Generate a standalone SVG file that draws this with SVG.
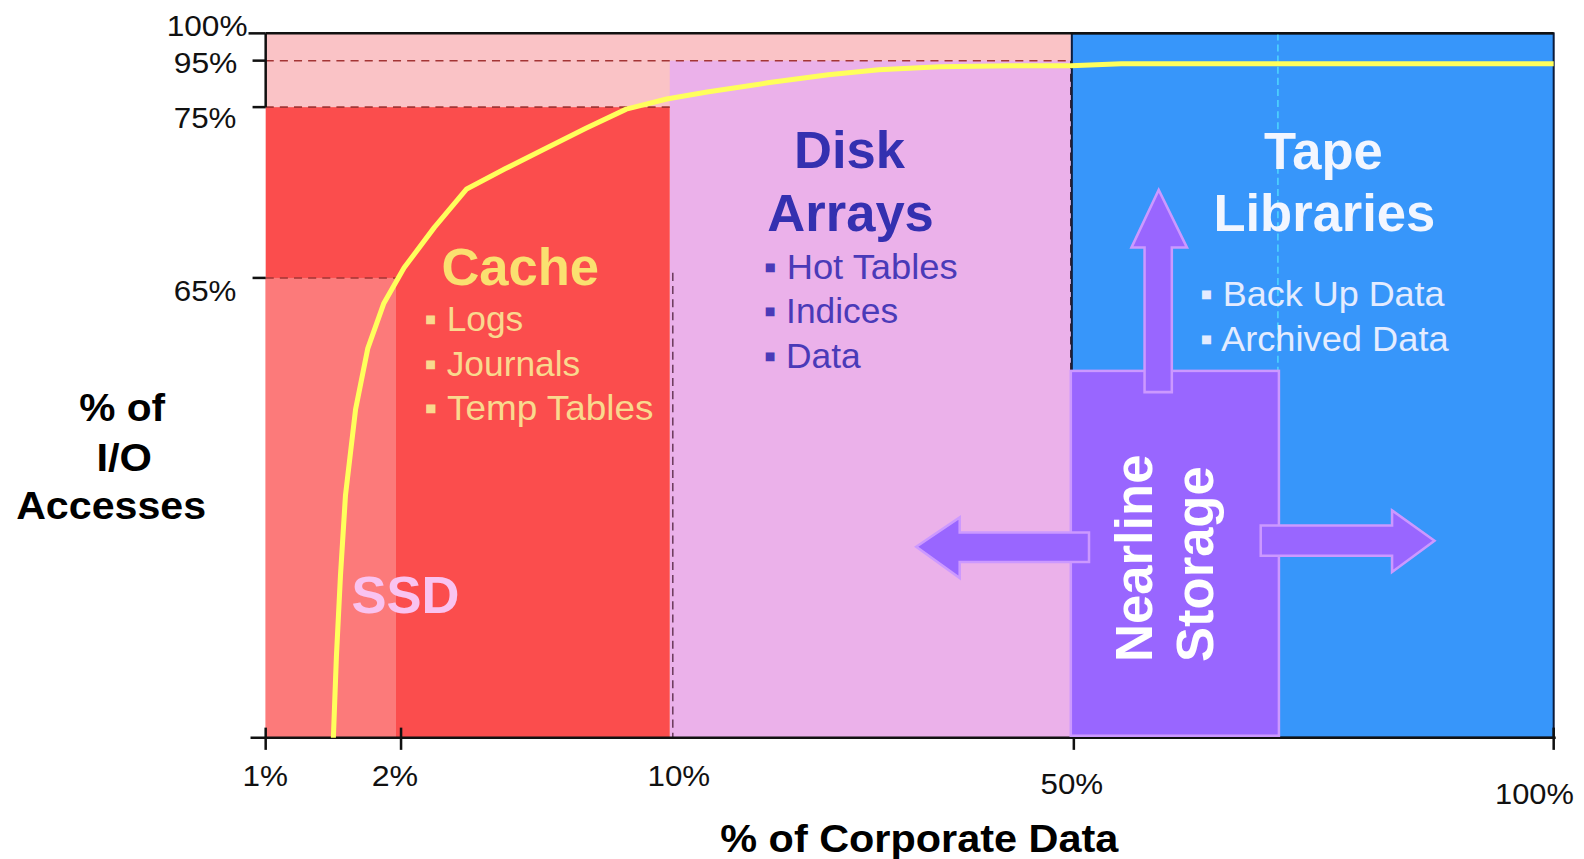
<svg xmlns="http://www.w3.org/2000/svg" width="1584" height="859" viewBox="0 0 1584 859">
<style>
.axl{font-family:"Liberation Sans Narrow","Liberation Sans",sans-serif;font-size:30px;fill:#111}
.ttl{font-family:"Liberation Sans",Arial,sans-serif;font-weight:bold;fill:#000}
.big{font-family:"Liberation Sans",Arial,sans-serif;font-weight:bold;font-size:52px}
.bul{font-family:"Liberation Sans",Arial,sans-serif;font-size:35px}
.arrow{fill:#9966ff;stroke:#cc99ff;stroke-width:2.5}
</style>
<rect width="1584" height="859" fill="#ffffff"/>
<g transform="scale(1.0102,1.0106)">
<g id="regions">
<rect x="263" y="33" width="797" height="73" fill="#fac3c6"/>
<rect x="663" y="60" width="397" height="670" fill="#ebb1ea"/>
<rect x="263" y="106" width="400" height="624" fill="#fb4d4d"/>
<rect x="263" y="275" width="129" height="455" fill="#fc7a7a"/>
<rect x="1061" y="33" width="477" height="697" fill="#3796fa" stroke="#0c1c3c" stroke-width="2"/>
<line x1="1265" y1="33" x2="1265" y2="367" stroke="#4fd8ff" stroke-width="1.5" stroke-dasharray="7,4"/>
</g>
<g id="gridlines" fill="none">
<line x1="263" y1="60" x2="1060" y2="60" stroke="#a33535" stroke-width="1.5" stroke-dasharray="8,6"/>
<line x1="263" y1="106" x2="663" y2="106" stroke="#a33535" stroke-width="1.5" stroke-dasharray="8,6"/>
<line x1="263" y1="275" x2="392" y2="275" stroke="#a33535" stroke-width="1.5" stroke-dasharray="8,6"/>
<line x1="666" y1="270" x2="666" y2="730" stroke="#6a3a5a" stroke-width="1.5" stroke-dasharray="8,5"/>
<line x1="1060" y1="60" x2="1060" y2="730" stroke="#302030" stroke-width="1.5" stroke-dasharray="8,5"/>
</g>
<g id="axes" stroke="#111" stroke-width="2.5" fill="none">
<line x1="263" y1="33" x2="1538" y2="33"/>
<line x1="263" y1="33" x2="263" y2="106"/>
<line x1="263" y1="720" x2="263" y2="742"/>
<line x1="248" y1="730" x2="1540" y2="730"/>
<line x1="246" y1="33" x2="263" y2="33"/>
<line x1="250" y1="60" x2="263" y2="60"/>
<line x1="250" y1="106" x2="263" y2="106"/>
<line x1="250" y1="275" x2="263" y2="275"/>
<line x1="397" y1="720" x2="397" y2="742"/>
<line x1="1063" y1="730" x2="1063" y2="742"/>
<line x1="1538" y1="720" x2="1538" y2="742"/>
</g>
<g id="curve">
<polyline fill="none" stroke="#ffff5c" stroke-width="5" stroke-linejoin="round" points="330,730 333,650 337,570 342,490 352,405 364,345 380,300 400,265 430,225 462,187 500,167 540,147 580,127 620,108 660,98 700,91 760,82 820,74 870,69 930,66 1000,65 1060,65 1110,63 1538,63"/>
</g>
<g id="y-labels" class="axl" text-anchor="end">
<text x="245" y="36" textLength="80" lengthAdjust="spacingAndGlyphs">100%</text>
<text x="235" y="72" textLength="63" lengthAdjust="spacingAndGlyphs">95%</text>
<text x="234" y="127" textLength="62" lengthAdjust="spacingAndGlyphs">75%</text>
<text x="234" y="298" textLength="62" lengthAdjust="spacingAndGlyphs">65%</text>
</g>
<g id="x-labels" class="axl">
<text x="240" y="778" textLength="45" lengthAdjust="spacingAndGlyphs">1%</text>
<text x="368" y="778" textLength="46" lengthAdjust="spacingAndGlyphs">2%</text>
<text x="641" y="778" textLength="62" lengthAdjust="spacingAndGlyphs">10%</text>
<text x="1030" y="786" textLength="62" lengthAdjust="spacingAndGlyphs">50%</text>
<text x="1480" y="796" textLength="78" lengthAdjust="spacingAndGlyphs">100%</text>
</g>
<g id="y-title" class="ttl" font-size="38" text-anchor="middle">
<text x="121" y="417" textLength="85" lengthAdjust="spacingAndGlyphs">% of</text>
<text x="123" y="466" textLength="55" lengthAdjust="spacingAndGlyphs">I/O</text>
<text x="110" y="514" textLength="188" lengthAdjust="spacingAndGlyphs">Accesses</text>
</g>
<g id="x-title" class="ttl" font-size="38">
<text x="713" y="843" textLength="394" lengthAdjust="spacingAndGlyphs">% of Corporate Data</text>
</g>
<g id="cache">
<text class="big" x="437" y="282" fill="#fae070">Cache</text>
<g class="bul" fill="#f9d98e">
<text x="420" y="328">▪ Logs</text>
<text x="420" y="372">▪ Journals</text>
<text x="420" y="416" textLength="227" lengthAdjust="spacingAndGlyphs">▪ Temp Tables</text>
</g>
</g>
<g id="ssd">
<text class="big" x="348" y="607" fill="#f9c3f0" font-size="50">SSD</text>
</g>
<g id="disk-arrays">
<text class="big" x="841" y="166" fill="#3430b0" text-anchor="middle">Disk</text>
<text class="big" x="842" y="229" fill="#3430b0" text-anchor="middle">Arrays</text>
<g class="bul" fill="#4a3ab8">
<text x="756" y="276" textLength="192" lengthAdjust="spacingAndGlyphs">▪ Hot Tables</text>
<text x="756" y="320">▪ Indices</text>
<text x="756" y="364">▪ Data</text>
</g>
</g>
<g id="tape-libraries">
<text class="big" x="1310" y="167" fill="#f2f6ff" text-anchor="middle">Tape</text>
<text class="big" x="1311" y="229" fill="#f2f6ff" text-anchor="middle">Libraries</text>
<g class="bul" fill="#e4ecff">
<text x="1188" y="303" textLength="242" lengthAdjust="spacingAndGlyphs">▪ Back Up Data</text>
<text x="1188" y="347" textLength="246" lengthAdjust="spacingAndGlyphs">▪ Archived Data</text>
</g>
</g>
<g id="nearline">
<rect x="1060" y="367" width="206" height="361" fill="#9966ff" stroke="#cc99ff" stroke-width="2.5"/>
<text class="big" fill="#ffffff" transform="translate(1140,655) rotate(-90)">Nearline</text>
<text class="big" fill="#ffffff" transform="translate(1201,655) rotate(-90)">Storage</text>
</g>
<g id="connectors">
<polygon class="arrow" points="1133,388 1133,245 1120,245 1147,188 1175,245 1160,245 1160,388"/>
<polygon class="arrow" points="1078,527 950,527 950,512 907,541 950,572 950,556 1078,556"/>
<polygon class="arrow" points="1248,520 1378,520 1378,505 1420,535 1378,566 1378,550 1248,550"/>
</g>
</g>
</svg>
